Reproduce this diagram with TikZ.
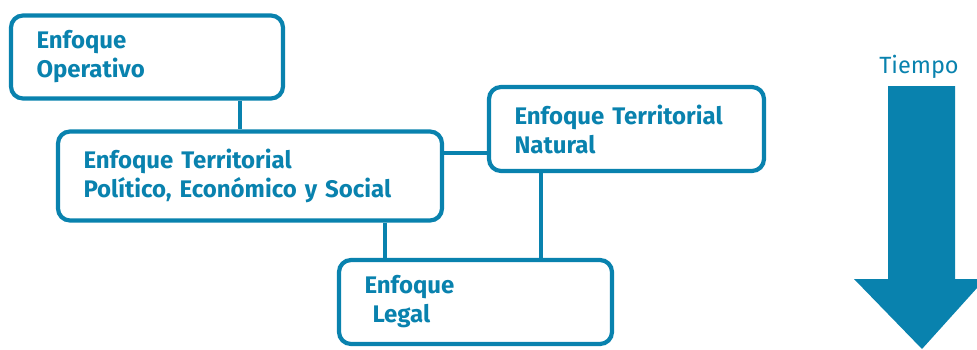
\documentclass[tikz,border=0pt]{standalone}
\usepackage{fontspec}
\setmainfont{Fira Sans}
\begin{document}
\definecolor{tealblue}{RGB}{9,130,174}
\begin{tikzpicture}[x=1pt,y=-1pt,
  box/.style={draw=tealblue, line width=4.2pt, rounded corners=12pt,
    text=tealblue, align=left, inner xsep=25.5pt, inner ysep=0pt,
    font=\fontsize{24}{29}\selectfont\bfseries},
  link/.style={draw=tealblue, line width=4pt}]
\useasboundingbox (0,0) rectangle (977,349);

% boxes
\node[box, minimum width=272pt, minimum height=83pt, text width=221pt] (op) at (147,57) {Enfoque\\Operativo};
\node[box, minimum width=384pt, minimum height=89pt, text width=333pt] (pol) at (250,176) {Enfoque Territorial\\Político, Económico y Social};
\node[box, minimum width=275pt, minimum height=84pt, text width=224pt] (nat) at (626.5,129) {Enfoque Territorial\\Natural};
\node[box, minimum width=273pt, minimum height=84pt, text width=222pt] (leg) at (475.5,302) {Enfoque\\\ Legal};

% connector guides
\coordinate (c1) at (240,0);
\coordinate (c2) at (0,153);
\coordinate (c3) at (385,0);
\coordinate (c4) at (541,0);

\path[link] (op.south -| c1) -- (pol.north -| c1);
\path[link] (pol.east |- c2) -- (nat.west |- c2);
\path[link] (pol.south -| c3) -- (leg.north -| c3);
\path[link] (nat.south -| c4) -- (leg.north -| c4);

% time arrow
\node[text=tealblue, font=\fontsize{23.5}{26}\selectfont] (tiempo) at (919,67) {Tiempo};
\fill[tealblue] (888,86) -- (955,86) -- (955,279) -- (977,279) -- (977,288)
  -- (922,349) -- (854,279) -- (888,279) -- cycle;
\end{tikzpicture}
\end{document}
